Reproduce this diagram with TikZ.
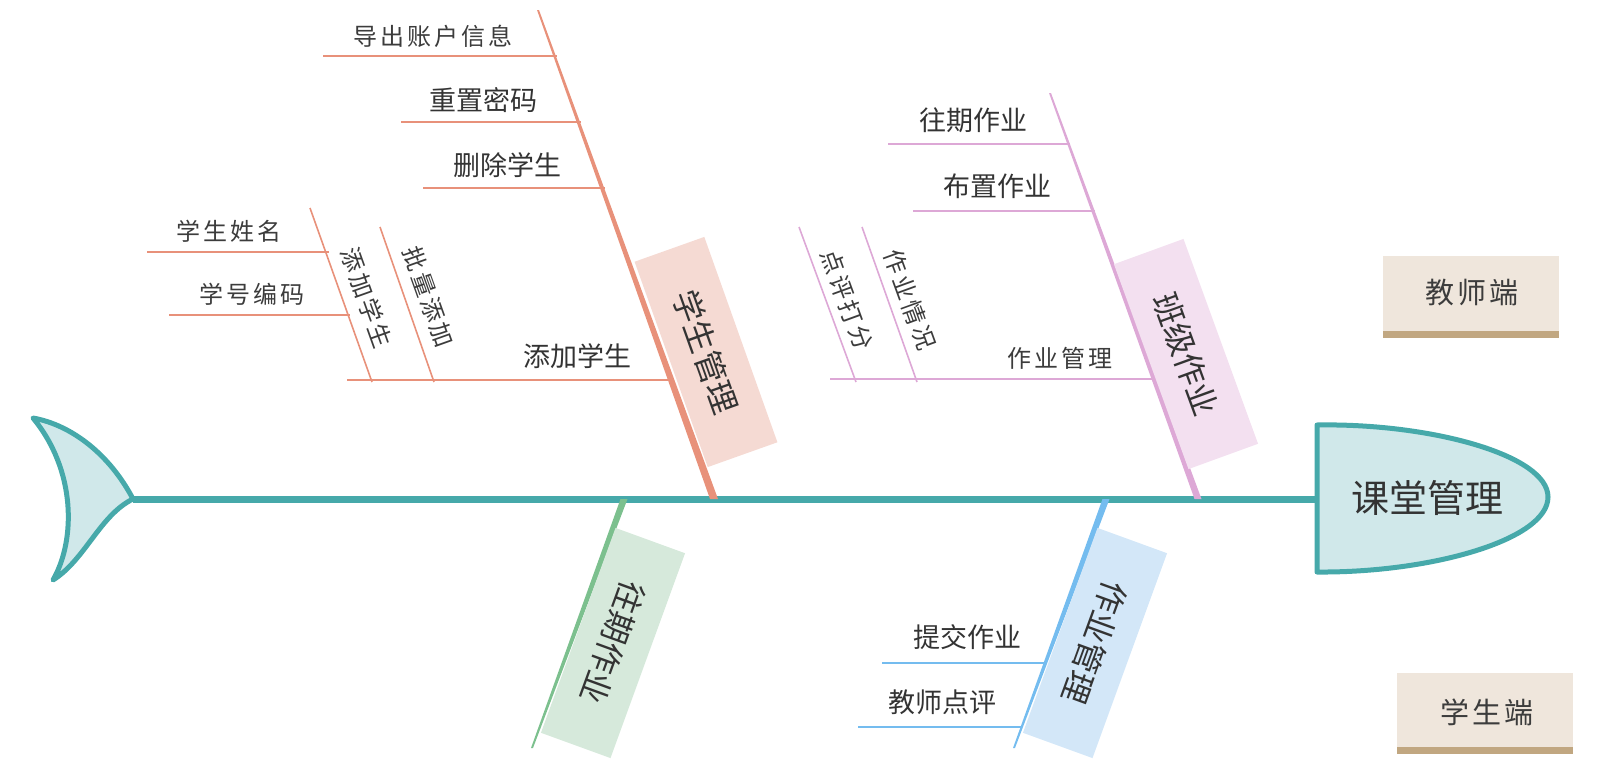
\documentclass[tikz,border=0pt]{standalone}
\usepackage{fontspec}
\setmainfont{Noto Sans CJK SC}
\newfontfamily\cjk{Noto Sans CJK SC}
\newfontfamily\cjkspaced{Noto Sans CJK SC}[LetterSpace=12]
\usetikzlibrary{calc}
\definecolor{teal}{HTML}{46A9AA}
\definecolor{tealfill}{HTML}{D0E8EA}
\definecolor{salmon}{HTML}{E8917A}
\definecolor{salmonfill}{HTML}{F5DAD3}
\definecolor{pinkb}{HTML}{DDA8D6}
\definecolor{pinkfill}{HTML}{F3E0F0}
\definecolor{greenb}{HTML}{7CC08E}
\definecolor{greenfill}{HTML}{D6E9DB}
\definecolor{blueb}{HTML}{74BCEF}
\definecolor{bluefill}{HTML}{D3E7F8}
\definecolor{legfill}{HTML}{EFE6DC}
\definecolor{legbar}{HTML}{C1A781}
\definecolor{txt}{HTML}{333333}
\definecolor{txtl}{HTML}{3C3C3C}
\tikzset{
  sublabel/.style={text=txt, font=\cjk\fontsize{27}{30}\selectfont, inner sep=0pt},
  seriflabel/.style={text=txtl, font=\cjkspaced\fontsize{24}{27}\selectfont, inner sep=0pt},
  boxlabel/.style={text=txt, font=\cjk\fontsize{32}{36}\selectfont, minimum width=218, minimum height=74, inner sep=0pt},
  legendlabel/.style={text=txtl, font=\cjkspaced\fontsize{29}{32}\selectfont, inner sep=0pt},
  subline/.style={line width=2pt},
  subsubline/.style={line width=1.6pt},
}
\begin{document}
\begin{tikzpicture}[x=1pt,y=-1pt]
\useasboundingbox (0,0) rectangle (1599,782);
% ---- coordinates
\coordinate (J) at (133,499);
\coordinate (H) at (1317,499);
\coordinate (A1) at (538,10);   \coordinate (A0) at (714,499);
\coordinate (B1) at (1050,93);  \coordinate (B0) at (1198,499);
\coordinate (C0) at (624,499);  \coordinate (C1) at (532,748);
\coordinate (D0) at (1106,499); \coordinate (D1) at (1014,748);
% ---- spine
\draw[teal, line width=7pt] (J) -- (H);
% ---- tail
\draw[teal, fill=tealfill, line width=5pt, line join=round]
  (33,418) .. controls (72,425) and (110,455) .. (J)
  .. controls (100,515) and (85,560) .. (53,580)
  .. controls (76,540) and (76,470) .. (33,418) -- cycle;
% ---- head
\draw[teal, fill=tealfill, line width=5pt, line join=round]
  (1317,425) .. controls (1430,423) and (1548,455) .. (1548,497)
  .. controls (1548,540) and (1430,573) .. (1317,572) -- cycle;
\node[text=txt, font=\cjk\fontsize{38}{42}\selectfont, inner sep=0pt] (head) at (1427,498) {课堂管理};
% ---- bone A: 学生管理
\fill[salmon] ($(A1)+(-1,0)$) -- ($(A1)+(1,0)$) -- ($(A0)+(4,0)$) -- ($(A0)+(-4,0)$) -- cycle;
\node[boxlabel, fill=salmonfill, rotate=-70.4] (boxA) at (706,352) {学生管理};
\coordinate (a1s) at (323,56);  \coordinate (a1e) at (557,56);
\coordinate (a2s) at (401,122); \coordinate (a2e) at (581,122);
\coordinate (a3s) at (423,188); \coordinate (a3e) at (605,188);
\coordinate (a4s) at (347,380); \coordinate (a4e) at (672,380);
\draw[salmon, subline] (a1s) -- (a1e);
\draw[salmon, subline] (a2s) -- (a2e);
\draw[salmon, subline] (a3s) -- (a3e);
\draw[salmon, subline] (a4s) -- (a4e);
\node[seriflabel] (ta1) at (433,36) {导出账户信息};
\node[sublabel] (ta2) at (483,100) {重置密码};
\node[sublabel] (ta3) at (507,165) {删除学生};
\node[sublabel] (ta4) at (577,356) {添加学生};
% diagonals under 添加学生
\coordinate (d1t) at (310,208); \coordinate (d1b) at (372,382);
\coordinate (d2t) at (380,227); \coordinate (d2b) at (434,382);
\draw[salmon, subsubline] (d1t) -- (d1b);
\draw[salmon, subsubline] (d2t) -- (d2b);
\node[seriflabel, rotate=-70.4] (td1) at (367,298) {添加学生};
\node[seriflabel, rotate=-70.4] (td2) at (429,297) {批量添加};
\coordinate (e1s) at (147,252); \coordinate (e1e) at (329,252);
\coordinate (e2s) at (169,315); \coordinate (e2e) at (350,315);
\draw[salmon, subsubline] (e1s) -- (e1e);
\draw[salmon, subsubline] (e2s) -- (e2e);
\node[seriflabel] (te1) at (229,231) {学生姓名};
\node[seriflabel] (te2) at (252,294) {学号编码};
% ---- bone B: 班级作业
\fill[pinkb] ($(B1)+(-1,0)$) -- ($(B1)+(1,0)$) -- ($(B0)+(3.5,0)$) -- ($(B0)+(-3.5,0)$) -- cycle;
\node[boxlabel, fill=pinkfill, rotate=-70] (boxB) at (1186,354) {班级作业};
\coordinate (b1s) at (888,144);  \coordinate (b1e) at (1070,144);
\coordinate (b2s) at (913,211);  \coordinate (b2e) at (1095,211);
\coordinate (b3s) at (830,379);  \coordinate (b3e) at (1153,379);
\draw[pinkb, subline] (b1s) -- (b1e);
\draw[pinkb, subline] (b2s) -- (b2e);
\draw[pinkb, subline] (b3s) -- (b3e);
\node[sublabel] (tb1) at (973,120) {往期作业};
\node[sublabel] (tb2) at (997,186) {布置作业};
\node[seriflabel] (tb3) at (1060,358) {作业管理};
\coordinate (f1t) at (799,227); \coordinate (f1b) at (856,382);
\coordinate (f2t) at (862,227); \coordinate (f2b) at (917,382);
\draw[pinkb, subsubline] (f1t) -- (f1b);
\draw[pinkb, subsubline] (f2t) -- (f2b);
\node[seriflabel, rotate=-70] (tf1) at (847,300) {点评打分};
\node[seriflabel, rotate=-70] (tf2) at (910,300) {作业情况};
% ---- bone C: 往期作业 (green)
\fill[greenb] ($(C0)+(-3.5,0)$) -- ($(C0)+(3.5,0)$) -- ($(C1)+(1,0)$) -- ($(C1)+(-1,0)$) -- cycle;
\node[boxlabel, fill=greenfill, rotate=-110] (boxC) at (613,643) {往期作业};
% ---- bone D: 作业管理 (blue)
\fill[blueb] ($(D0)+(-3.5,0)$) -- ($(D0)+(3.5,0)$) -- ($(D1)+(1,0)$) -- ($(D1)+(-1,0)$) -- cycle;
\node[boxlabel, fill=bluefill, rotate=-110] (boxD) at (1095,643) {作业管理};
\coordinate (g1s) at (882,663); \coordinate (g1e) at (1044,663);
\coordinate (g2s) at (858,727); \coordinate (g2e) at (1021,727);
\draw[blueb, subline] (g1s) -- (g1e);
\draw[blueb, subline] (g2s) -- (g2e);
\node[sublabel] (tg1) at (967,637) {提交作业};
\node[sublabel] (tg2) at (942,702) {教师点评};
% ---- legends
\fill[legfill] (1383,256) rectangle (1559,331);
\fill[legbar] (1383,331) rectangle (1559,338);
\node[legendlabel] (leg1) at (1472,293) {教师端};
\fill[legfill] (1397,673) rectangle (1573,747);
\fill[legbar] (1397,747) rectangle (1573,754);
\node[legendlabel] (leg2) at (1487,712) {学生端};
\end{tikzpicture}
\end{document}
